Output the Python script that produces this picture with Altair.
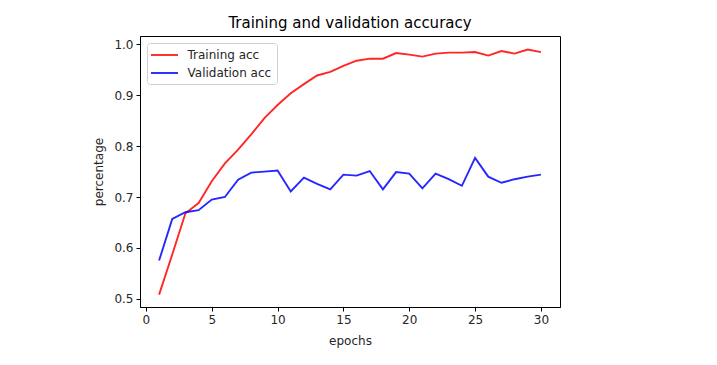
import altair as alt
import pandas as pd

epochs = list(range(1, 31))
train_acc = [0.508, 0.587, 0.668, 0.688, 0.731, 0.766, 0.793, 0.823, 0.855, 0.881,
             0.904, 0.922, 0.939, 0.946, 0.958, 0.968, 0.972, 0.972, 0.983, 0.980,
             0.976, 0.982, 0.984, 0.984, 0.985, 0.978, 0.987, 0.982, 0.990, 0.985]
val_acc = [0.575, 0.657, 0.670, 0.674, 0.695, 0.700, 0.734, 0.748, 0.750, 0.752,
           0.711, 0.738, 0.726, 0.715, 0.744, 0.742, 0.751, 0.715, 0.749, 0.746,
           0.717, 0.746, 0.735, 0.722, 0.777, 0.740, 0.728, 0.735, 0.740, 0.744]
series_names = ["Training acc", "Validation acc"]
series_colors = ["#ff0000", "#0000ff"]
x_ticks = [0, 5, 10, 15, 20, 25, 30]
y_ticks = [0.5, 0.6, 0.7, 0.8, 0.9, 1.0]

rows = []
for e, t, v in zip(epochs, train_acc, val_acc):
    rows.append({"epoch": e, "acc": t, "series": series_names[0]})
    rows.append({"epoch": e, "acc": v, "series": series_names[1]})
df = pd.DataFrame(rows)

font = "DejaVu Sans"
text_color = "#262626"

chart = alt.Chart(df).mark_line(strokeWidth=1.9, opacity=0.85).encode(
    x=alt.X("epoch:Q", scale=alt.Scale(domain=[-0.45, 31.45], nice=False, zero=False),
            axis=alt.Axis(values=x_ticks, format="d", title="epochs", titlePadding=10)),
    y=alt.Y("acc:Q", scale=alt.Scale(domain=[0.4837, 1.0166], nice=False, zero=False),
            axis=alt.Axis(values=y_ticks, format=".1f", title="percentage", titlePadding=8)),
    color=alt.Color("series:N", scale=alt.Scale(domain=series_names, range=series_colors),
                    sort=series_names,
                    legend=alt.Legend(title=None, orient="top-left", offset=7,
                                      symbolType="M-2.25,0H2.25", symbolSize=144,
                                      symbolStrokeWidth=1.9, symbolOffset=5.5,
                                      labelFontSize=12, labelFont=font,
                                      labelColor=text_color,
                                      labelOffset=16, rowPadding=5,
                                      strokeColor="#d0d0d0", fillColor="white",
                                      padding=5, cornerRadius=3)),
    detail="series:N",
).properties(
    width=420, height=271,
    title=alt.TitleParams("Training and validation accuracy", fontSize=15, font=font,
                          fontWeight="normal", color="#000000", offset=5),
    autosize=alt.AutoSizeParams(type="none"),
    padding={"left": 132, "top": 28, "right": 149, "bottom": 50},
).configure_view(
    stroke="#000000", strokeWidth=1
).configure_axis(
    grid=False, domain=True, domainColor="#000000", tickColor="#000000",
    tickSize=4, labelFont=font, labelFontSize=12, labelColor=text_color,
    titleFont=font, titleFontSize=12, titleFontWeight="normal", titleColor=text_color,
    labelPadding=3,
)

chart.save("out.html", embed_options={"renderer": "svg", "actions": False})
